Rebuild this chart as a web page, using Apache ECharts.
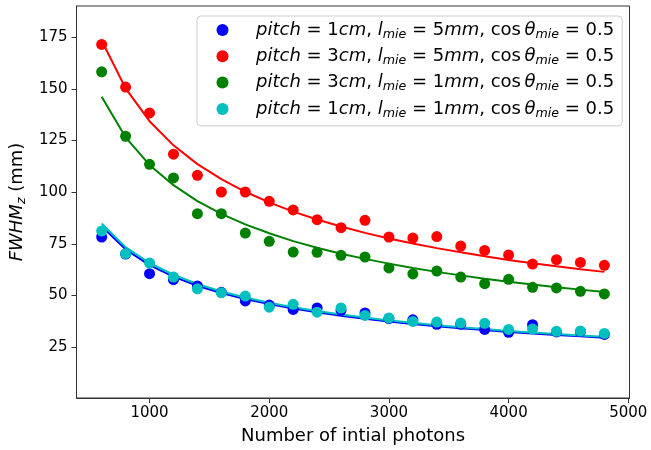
<!DOCTYPE html>
<html><head><meta charset="utf-8">
<script src="https://cdn.jsdelivr.net/npm/echarts@6/dist/echarts.min.js"></script>
<style>html,body{margin:0;padding:0;background:#fff}#c{width:651px;height:450px}</style>
</head><body><div id="c"></div>
<script>
// ---- data ----
const photons = [600, 800, 1000, 1200, 1400, 1600, 1800, 2000, 2200, 2400, 2600, 2800, 3000, 3200, 3400, 3600, 3800, 4000, 4200, 4400, 4600, 4800];
const blueVals  = [78.3, 70.0, 60.5, 57.6, 54.6, 51.5, 47.3, 45.3, 43.2, 43.9, 42.8, 41.5, 38.8, 38.2, 36.0, 36.0, 33.5, 32.1, 35.8, 32.3, 32.5, 31.1];
const redVals   = [171.6, 150.9, 138.4, 118.4, 108.2, 100.1, 100.1, 95.6, 91.4, 86.7, 82.8, 86.4, 78.3, 77.8, 78.5, 73.9, 71.8, 69.6, 65.2, 67.3, 66.0, 64.6];
const greenVals = [158.3, 127.1, 113.5, 106.9, 89.6, 89.6, 80.2, 76.2, 71.0, 70.9, 69.4, 68.6, 63.3, 60.4, 61.8, 58.9, 55.7, 57.8, 53.9, 53.6, 52.0, 50.7];
const cyanVals  = [81.2, 70.2, 65.7, 58.9, 53.2, 51.3, 49.7, 44.3, 45.7, 41.9, 43.9, 40.3, 39.0, 37.4, 37.1, 36.6, 36.5, 33.5, 33.7, 32.6, 32.7, 31.6];
// fitted curves
const blueFit  = [83.5, 72.3, 64.7, 59.1, 54.7, 51.2, 48.2, 45.8, 43.6, 41.8, 40.1, 38.7, 37.4, 36.2, 35.1, 34.1, 33.2, 32.3, 31.6, 30.8, 30.2, 29.5];
const redFit   = [173.5, 150.3, 134.4, 122.7, 113.6, 106.3, 100.2, 95.1, 90.6, 86.8, 83.4, 80.3, 77.6, 75.1, 72.9, 70.9, 69.0, 67.2, 65.6, 64.1, 62.7, 61.4];
const greenFit = [146.2, 126.6, 113.2, 103.4, 95.7, 89.5, 84.4, 80.1, 76.3, 73.1, 70.2, 67.7, 65.4, 63.3, 61.4, 59.7, 58.1, 56.6, 55.3, 54.0, 52.8, 51.7];
const cyanFit  = [84.8, 73.4, 65.7, 60.0, 55.5, 51.9, 49.0, 46.4, 44.3, 42.4, 40.7, 39.3, 37.9, 36.7, 35.6, 34.6, 33.7, 32.8, 32.0, 31.3, 30.6, 30.0];
const xTicks = [1000, 2000, 3000, 4000, 5000];
const yTicks = [25, 50, 75, 100, 125, 150, 175];
const seriesNames = ['s1', 's2', 's3', 's4'];
const legendLabels = {
  s1: ['1', '5'],
  s2: ['3', '5'],
  s3: ['3', '1'],
  s4: ['1', '1']
};
const xTitle = 'Number of intial photons';

// ---- chart ----
const FONT = 'DejaVu Sans';
const TS = ' ';
function pairs(vals) { return photons.map((x, i) => [x, vals[i]]); }
const colors = ['#0000ff', '#ff0000', '#008000', '#00bfbf'];
const valsList = [blueVals, redVals, greenVals, cyanVals];
const fitList = [blueFit, redFit, greenFit, cyanFit];
const series = [];
seriesNames.forEach((nm, k) => {
  series.push({
    name: nm, type: 'scatter', data: pairs(valsList[k]), symbolSize: 11,
    itemStyle: { color: colors[k], opacity: 1 }, z: 2
  });
  series.push({
    name: nm + '_fit', type: 'line', data: pairs(fitList[k]), symbol: 'none',
    lineStyle: { color: colors[k], width: 2 }, z: 2
  });
});

const legendRich = {
  i: { fontFamily: FONT, fontStyle: 'italic', fontSize: 18, lineHeight: 22, color: '#000' },
  n: { fontFamily: FONT, fontSize: 18, lineHeight: 22, color: '#000' },
  s: { fontFamily: FONT, fontStyle: 'italic', fontSize: 12.6, lineHeight: 12, verticalAlign: 'bottom', color: '#000' }
};

const chart = echarts.init(document.getElementById('c'), null, { renderer: 'canvas' });
chart.setOption({
  animation: false,
  backgroundColor: '#fff',
  grid: { left: 76, top: 6, right: 21.5, bottom: 52, show: true, borderColor: '#333', borderWidth: 1, backgroundColor: 'transparent' },
  legend: {
    data: seriesNames,
    orient: 'vertical',
    left: 197, top: 16,
    padding: [5, 8, 6, 19.5],
    itemGap: 6.3,
    itemWidth: 12, itemHeight: 12,
    icon: 'circle',
    backgroundColor: 'rgba(255,255,255,0.8)',
    borderColor: '#cccccc', borderWidth: 1, borderRadius: 4,
    textStyle: { fontFamily: FONT, fontSize: 18, padding: [0, 0, 0, 22.5], rich: legendRich },
    formatter: function (name) {
      const p = legendLabels[name];
      return '{i|pitch}{n|' + TS + '=' + TS + p[0] + '}{i|cm}{n|, }{i|l}{s|mie}{n|' + TS + '=' + TS + p[1] + '}{i|mm}{n|, cos\u2009}{i|θ}{s|mie}{n|' + TS + '=' + TS + '0.5}';
    }
  },
  xAxis: {
    type: 'value', min: 390, max: 5010,
    name: xTitle, nameLocation: 'middle', nameGap: 29,
    nameTextStyle: { fontFamily: FONT, fontSize: 18, color: '#000' },
    axisLine: { show: true, onZero: false, lineStyle: { color: '#333', width: 1 } },
    axisTick: { show: true, length: 5, customValues: xTicks, lineStyle: { color: '#333' } },
    axisLabel: { customValues: xTicks, margin: 8, fontFamily: FONT, fontSize: 15, color: '#000', formatter: v => String(v) },
    splitLine: { show: false }
  },
  yAxis: {
    type: 'value', min: 0.3, max: 190.2,
    name: '{i|FWHM}{s|z}{n| (mm)}', nameLocation: 'middle', nameGap: 44, nameRotate: 90,
    nameTextStyle: {
      fontFamily: FONT, fontSize: 18, color: '#000',
      rich: {
        i: { fontFamily: FONT, fontStyle: 'italic', fontSize: 18, lineHeight: 22, color: '#000' },
        n: { fontFamily: FONT, fontSize: 18, lineHeight: 22, color: '#000' },
        s: { fontFamily: FONT, fontStyle: 'italic', fontSize: 12.6, lineHeight: 12, verticalAlign: 'bottom', color: '#000' }
      }
    },
    axisLine: { show: true, onZero: false, lineStyle: { color: '#333', width: 1 } },
    axisTick: { show: true, length: 5, customValues: yTicks, lineStyle: { color: '#333' } },
    axisLabel: { customValues: yTicks, margin: 9, fontFamily: FONT, fontSize: 15, color: '#000', formatter: v => String(v) },
    splitLine: { show: false }
  },
  series: series
});
</script>
</body></html>
